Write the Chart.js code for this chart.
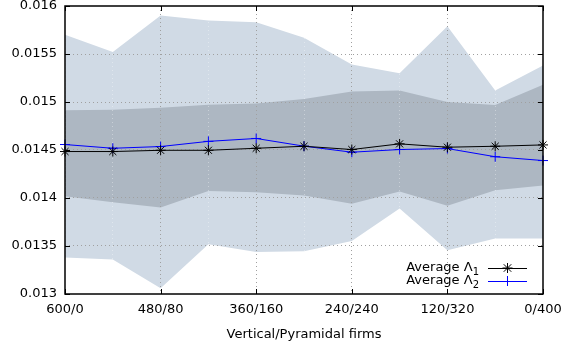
<!DOCTYPE html>
<html>
<head>
<meta charset="utf-8">
<script src="https://cdn.jsdelivr.net/npm/chart.js@4/dist/chart.umd.min.js"></script>
<style>
html,body{margin:0;padding:0;background:#fff;}
#wrap{width:562px;height:347px;}
</style>
</head>
<body>
<div id="wrap"><canvas id="c" width="562" height="347"></canvas></div>
<script>
const categories = ['600/0','540/40','480/80','420/120','360/160','300/200','240/240','180/280','120/320','60/360','0/400'];
const lambda1 = [0.014484,0.014484,0.014497,0.014497,0.014518,0.014539,0.014505,0.014564,0.014529,0.014539,0.014553];
const lambda2 = [0.014557,0.014518,0.014536,0.014590,0.014620,0.014540,0.014477,0.014505,0.014515,0.014430,0.014390];
const outerUpper = [0.01570,0.01552,0.01590,0.01585,0.01583,0.01567,0.01539,0.01530,0.01579,0.01512,0.01538];
const outerLower = [0.013380,0.013360,0.013060,0.013518,0.013438,0.013446,0.013553,0.013890,0.013456,0.013577,0.013577];
const innerUpper = [0.014913,0.014920,0.014940,0.014972,0.014985,0.015030,0.015110,0.015120,0.015000,0.014970,0.015180];
const innerLower = [0.014017,0.013957,0.013900,0.014072,0.014060,0.014027,0.013940,0.014069,0.013920,0.014080,0.014130];
const yTicks = [0.013,0.0135,0.014,0.0145,0.015,0.0155,0.016];
const legendLabels = ['Average Λ', 'Average Λ'];
const legendSubs = ['1', '2'];

const FONT = 'DejaVu Sans';
const FS = 13;
const lightBand = '#d0dae5';
const darkBand = '#adb7c2';

const frame = {
  id: 'frame',
  afterDraw(chart) {
    const ctx = chart.ctx, a = chart.chartArea;
    const xs = chart.scales.x, ys = chart.scales.y;
    ctx.save();
    ctx.strokeStyle = '#000';
    ctx.lineWidth = 1.5;
    ctx.strokeRect(a.left, a.top, a.right - a.left, a.bottom - a.top);
    ctx.lineWidth = 1;
    const L = 5;
    ctx.beginPath();
    for (let i = 0; i < categories.length; i += 2) {
      const x = Math.round(xs.getPixelForValue(i)) + 0.5;
      ctx.moveTo(x, a.bottom); ctx.lineTo(x, a.bottom - L);
      ctx.moveTo(x, a.top); ctx.lineTo(x, a.top + L);
    }
    yTicks.forEach(v => {
      const y = Math.round(ys.getPixelForValue(v)) + 0.5;
      ctx.moveTo(a.left, y); ctx.lineTo(a.left + L, y);
      ctx.moveTo(a.right, y); ctx.lineTo(a.right - L, y);
    });
    ctx.stroke();

    // legend
    const colors = ['#000000', '#0000ff'];
    const textRight = a.right - 64;
    const lineL = a.right - 55, lineR = a.right - 16;
    const mid = (lineL + lineR) / 2;
    [a.bottom - 26, a.bottom - 13].forEach((y, i) => {
      ctx.font = FS + 'px "' + FONT + '"';
      const wMain = ctx.measureText(legendLabels[i]).width;
      ctx.font = '10px "' + FONT + '"';
      const wSub = ctx.measureText(legendSubs[i]).width;
      const x0 = textRight - wMain - wSub;
      ctx.fillStyle = '#000';
      ctx.textBaseline = 'middle';
      ctx.textAlign = 'left';
      ctx.font = FS + 'px "' + FONT + '"';
      ctx.fillText(legendLabels[i], x0, y);
      ctx.font = '10px "' + FONT + '"';
      ctx.fillText(legendSubs[i], x0 + wMain, y + 4);
      ctx.strokeStyle = colors[i];
      ctx.lineWidth = 1;
      ctx.beginPath();
      ctx.moveTo(lineL, y + 0.5); ctx.lineTo(lineR, y + 0.5);
      const r = 5;
      ctx.moveTo(mid, y - r); ctx.lineTo(mid, y + r);
      if (i === 0) {
        ctx.moveTo(mid - r, y); ctx.lineTo(mid + r, y);
        const d = r * 0.75;
        ctx.moveTo(mid - d, y - d); ctx.lineTo(mid + d, y + d);
        ctx.moveTo(mid - d, y + d); ctx.lineTo(mid + d, y - d);
      }
      ctx.stroke();
    });
    ctx.restore();
  }
};

new Chart(document.getElementById('c'), {
  type: 'line',
  data: {
    labels: categories,
    datasets: [
      {label: 'Average Λ1', data: lambda1, borderColor: '#000', backgroundColor: '#000', borderWidth: 1,
       pointStyle: 'star', pointRadius: 5, pointBorderWidth: 1, pointBorderColor: '#000', fill: false, tension: 0},
      {label: 'Average Λ2', data: lambda2, borderColor: '#0000ff', backgroundColor: '#0000ff', borderWidth: 1,
       pointStyle: 'cross', pointRadius: 5, pointBorderWidth: 1, pointBorderColor: '#0000ff', fill: false, tension: 0},
      {data: innerUpper, fill: '+1', backgroundColor: darkBand, borderWidth: 0, pointRadius: 0, tension: 0},
      {data: innerLower, fill: false, borderWidth: 0, pointRadius: 0, tension: 0},
      {data: outerUpper, fill: '+1', backgroundColor: lightBand, borderWidth: 0, pointRadius: 0, tension: 0},
      {data: outerLower, fill: false, borderWidth: 0, pointRadius: 0, tension: 0}
    ]
  },
  options: {
    responsive: false,
    animation: false,
    events: [],
    layout: {padding: {top: 5, right: 19, left: 0, bottom: 0}},
    plugins: {
      legend: {display: false},
      tooltip: {enabled: false},
      filler: {drawTime: 'beforeDraw'}
    },
    scales: {
      x: {
        offset: false,
        grid: {
          drawTicks: false,
          color: ctx => (ctx.index % 2 === 0 && ctx.index > 0 && ctx.index < categories.length - 1) ? '#a0a0a0' : 'rgba(255,255,255,0.35)',
          lineWidth: 1
        },
        border: {display: false, dash: [1, 3]},
        ticks: {
          autoSkip: false, maxRotation: 0, padding: 8,
          color: '#000', font: {family: FONT, size: FS},
          callback: (v, i) => (i % 2 === 0 ? categories[i] : '')
        },
        title: {display: true, text: 'Vertical/Pyramidal firms', color: '#000',
                font: {family: FONT, size: FS}, padding: {top: 4, bottom: 5}},
        afterFit: s => { s.height = 53; s.paddingLeft = 0; s.paddingRight = 0; }
      },
      y: {
        min: 0.013, max: 0.016,
        afterBuildTicks: s => { s.ticks = yTicks.map(v => ({value: v})); },
        grid: {drawTicks: false, color: ctx => (ctx.index > 0 && ctx.index < yTicks.length - 1) ? '#a0a0a0' : 'rgba(0,0,0,0)', lineWidth: 1},
        border: {display: false, dash: [1, 3]},
        ticks: {
          padding: 8, color: '#000', font: {family: FONT, size: FS},
          callback: v => String(Number(v.toFixed(4)))
        },
        afterFit: s => { s.width = 65; s.paddingTop = 0; s.paddingBottom = 0; }
      }
    }
  },
  plugins: [frame]
});
</script>
</body>
</html>
